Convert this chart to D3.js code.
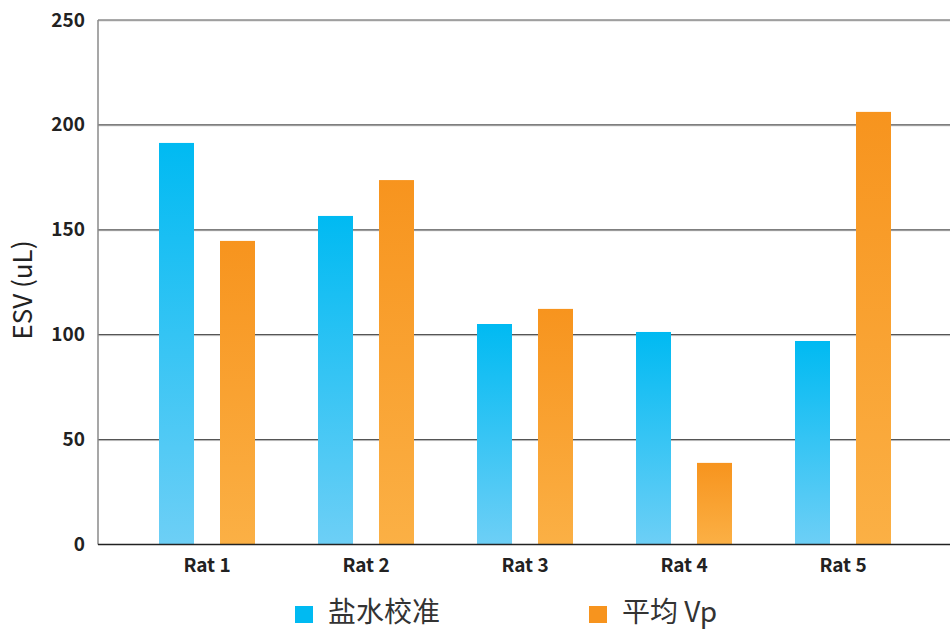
<!DOCTYPE html>
<html>
<head>
<meta charset="utf-8">
<script src="https://cdn.jsdelivr.net/npm/d3@7"></script>
<style>
  html, body { margin: 0; padding: 0; background: #fff; }
  svg { display: block; font-family: "Noto Sans CJK SC", "Noto Sans", sans-serif; }
</style>
</head>
<body>
<svg id="chart" width="950" height="630"></svg>
<script>
// ESV per rat: saline calibration vs. average Vp
const categories = ["Rat 1", "Rat 2", "Rat 3", "Rat 4", "Rat 5"];
const salineValues = [191.4, 156.6, 105.1, 101.3, 97.0];
const vpValues = [144.7, 173.7, 112.3, 38.9, 206.2];
const seriesNames = ["盐水校准", "平均 Vp"];
const yTicks = [0, 50, 100, 150, 200, 250];

const svg = d3.select("#chart");

const plotLeft = 98, plotRight = 950, plotTop = 20, plotBottom = 544.5;

const y = d3.scaleLinear().domain([0, 250]).range([plotBottom, plotTop]);
const x = d3.scaleBand().domain(categories).range([127.5, 922.5]);
const barW = 35;

// vertical gradients for each series
const defs = svg.append("defs");
const grads = [
  { id: "gBlue", top: "#00BAF2", bottom: "#6DCFF6" },
  { id: "gOrange", top: "#F7941E", bottom: "#FBB045" }
];
grads.forEach(g => {
  const lg = defs.append("linearGradient").attr("id", g.id)
    .attr("x1", 0).attr("y1", 0).attr("x2", 0).attr("y2", 1);
  lg.append("stop").attr("offset", "0%").attr("stop-color", g.top);
  lg.append("stop").attr("offset", "100%").attr("stop-color", g.bottom);
});

// horizontal gridlines
const grid = svg.append("g");
yTicks.filter(t => t > 0).forEach(t => {
  grid.append("line")
    .attr("x1", plotLeft).attr("x2", plotRight)
    .attr("y1", y(t) + 1).attr("y2", y(t) + 1)
    .attr("stroke", "#d6d6d6").attr("stroke-width", 1);
  grid.append("line")
    .attr("x1", plotLeft).attr("x2", plotRight)
    .attr("y1", y(t)).attr("y2", y(t))
    .attr("stroke", "#555").attr("stroke-width", 1.2);
});

// left axis line
svg.append("line")
  .attr("x1", plotLeft).attr("x2", plotLeft)
  .attr("y1", plotTop).attr("y2", plotBottom)
  .attr("stroke", "#8a8a8a").attr("stroke-width", 1.5);

// y tick labels
const yAxis = d3.axisLeft(y).tickValues(yTicks).tickSize(0).tickPadding(13);
const yg = svg.append("g").attr("transform", `translate(${plotLeft},0)`).call(yAxis);
yg.select(".domain").remove();
yg.selectAll("text")
  .attr("font-size", 19).attr("font-weight", 700).attr("fill", "#222")
  .attr("font-family", "'Noto Sans CJK SC', sans-serif");

// bars
const barGroup = svg.append("g");
const series = [salineValues, vpValues];
series.forEach((vals, si) => {
  barGroup.selectAll(null)
    .data(categories.map((c, i) => ({ c, v: vals[i] })))
    .enter().append("rect")
    .attr("x", d => x(d.c) + x.bandwidth() / 2 + (si === 0 ? -48 : 13))
    .attr("y", d => y(d.v))
    .attr("width", barW)
    .attr("height", d => y(0) - y(d.v))
    .attr("fill", `url(#${grads[si].id})`);
});

// baseline
svg.append("line")
  .attr("x1", plotLeft).attr("x2", plotRight)
  .attr("y1", plotBottom).attr("y2", plotBottom)
  .attr("stroke", "#222").attr("stroke-width", 1.3);

// x category labels
const xAxis = d3.axisBottom(x).tickSize(0).tickPadding(14);
const xg = svg.append("g").attr("transform", `translate(0,${plotBottom})`).call(xAxis);
xg.select(".domain").remove();
xg.selectAll("text")
  .attr("font-size", 19).attr("font-weight", 700).attr("fill", "#222")
  .attr("font-family", "'Noto Sans CJK SC', sans-serif");

// y axis title
svg.append("text")
  .attr("transform", "translate(32,290) rotate(-90)")
  .attr("text-anchor", "middle")
  .attr("font-size", 26).attr("fill", "#222")
  .text("ESV (uL)");

// legend
const legendItems = [
  { name: seriesNames[0], color: "#00BAF2", x: 295 },
  { name: seriesNames[1], color: "#F7941E", x: 589 }
];
const lg = svg.append("g");
legendItems.forEach(it => {
  lg.append("rect").attr("x", it.x).attr("y", 606).attr("width", 18).attr("height", 17).attr("fill", it.color);
  lg.append("text").attr("x", it.x + 33).attr("y", 622)
    .attr("font-size", 28).attr("fill", "#333").text(it.name);
});
</script>
</body>
</html>
